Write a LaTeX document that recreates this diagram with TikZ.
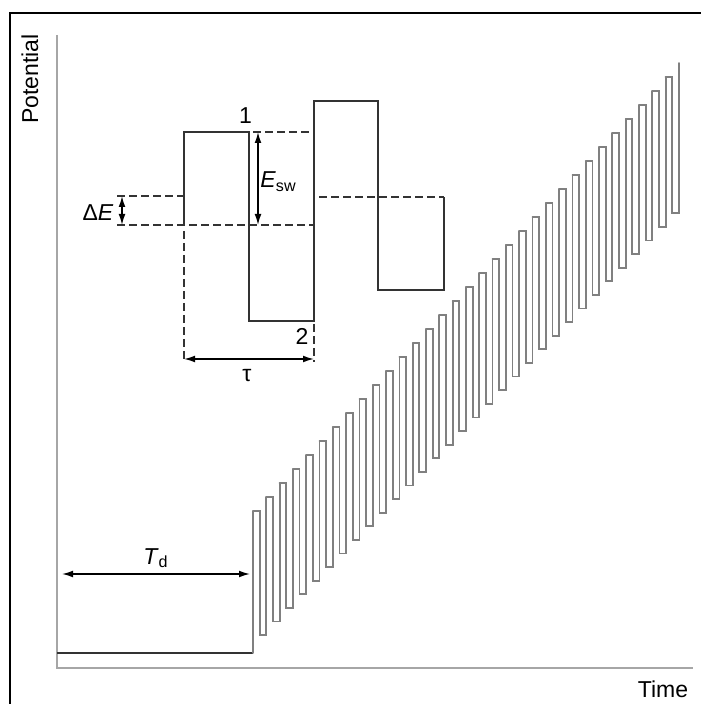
\documentclass[tikz,border=0pt]{standalone}
\usepackage{fontspec}
\setmainfont{Liberation Sans}
\usetikzlibrary{arrows.meta, positioning}

\begin{document}
\begin{tikzpicture}[x=0.5pt, y=-0.5pt, >={Latex[length=5.5pt,width=3.4pt]},
    font=\fontsize{11.5}{13.5}\selectfont,
    lbl/.style={anchor=base, inner sep=0pt},
    axis/.style={draw=black!35, line width=1.2pt},
    wave/.style={draw=black!80, line width=0.85pt},
    stair/.style={draw=black!50, line width=0.9pt, line cap=round},
    guide/.style={draw=black!80, dash pattern=on 4pt off 2pt, line width=0.75pt},
    dim/.style={<->, line width=0.75pt}]
  \useasboundingbox (0,0) rectangle (701,704);
  % frame and axes
  \draw[line width=1pt] (10,704) -- (10,13) -- (701,13);
  \draw[axis] (57,35) -- (57,668) -- (693,668);
  \node[lbl, rotate=90] (potential) at (38,79) {Potential};
  \node[lbl] (time) at (663,697) {Time};

  % inset: one period of the square wave
  \draw[wave] (184,225) -- (184,132) -- (249,132) -- (249,321) -- (314,321)
    -- (314,101) -- (378,101) -- (378,290) -- (444,290) -- (444,197);
  \draw[guide] (117,196) -- (184,196);
  \draw[guide] (117,225) -- (314,225);
  \draw[guide] (253,132) -- (312,132);
  \draw[guide] (319,197) -- (444,197);
  \draw[guide] (184,231) -- (184,360);
  \draw[guide] (314,324) -- (314,362);

  \coordinate (dE-top) at (122,196);
  \coordinate (dE-bot) at (122,225);
  \coordinate (sw-top) at (258,132);
  \coordinate (sw-bot) at (258,225);
  \coordinate (tau-l) at (184,359);
  \coordinate (tau-r) at (314,359);
  \draw[dim] (dE-top) -- (dE-bot);
  \draw[dim] (sw-top) -- (sw-bot);
  \draw[dim] (tau-l) -- (tau-r);

  \node[lbl] (dE) at (98,221) {Δ\textit{E}};
  \node[lbl, anchor=base west] (Esw) at (260,188) {\textit{E}\textsubscript{sw}};
  \node[lbl] (one) at (245.5,124) {1};
  \node[lbl] (two) at (302,345) {2};
  \node[lbl] (tau) at (247,381) {τ};

  % delay then staircase of pulses
  \draw[wave] (57,653) -- (253,653);
  \draw[stair] (253,653) -- (253,511);
  \foreach \k in {0,...,31}{
    \pgfmathsetmacro\xa{253+13.31*\k}
    \pgfmathsetmacro\ytop{511-14*\k}
    \pgfmathsetmacro\ybot{\ytop+124+0.4*\k}
    \draw[stair] (\xa,\ytop) -- ({\xa+6.65},\ytop) -- ({\xa+6.65},\ybot)
      -- ({\xa+13.31},\ybot) -- ({\xa+13.31},{\ytop-14});
  }

  \coordinate (Td-l) at (62,574);
  \coordinate (Td-r) at (250,574);
  \draw[dim] (Td-l) -- (Td-r);
  \node[lbl] (Td) at (156,564) {\textit{T}\textsubscript{d}};
\end{tikzpicture}
\end{document}
